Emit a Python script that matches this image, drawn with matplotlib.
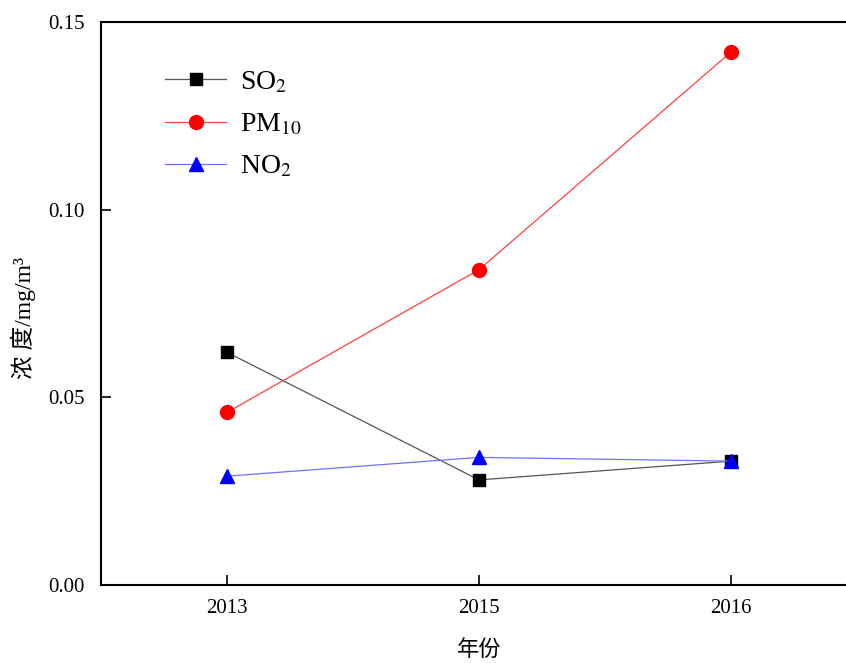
import matplotlib
matplotlib.use("Agg")
import matplotlib.pyplot as plt

years = ["2013", "2015", "2016"]
so2 = [0.062, 0.028, 0.033]
pm10 = [0.046, 0.084, 0.142]
no2 = [0.029, 0.034, 0.033]
yticks = [0.00, 0.05, 0.10, 0.15]

plt.rcParams['font.family'] = ['Liberation Serif', 'Noto Sans CJK SC']
plt.rcParams['mathtext.fontset'] = 'stix'

fig = plt.figure(figsize=(8.46, 6.63), dpi=100)
W, H = 846, 663
left, right, top, bottom = 101, 857, 22, 585
ax = fig.add_axes([left / W, 1 - bottom / H, (right - left) / W, (bottom - top) / H])

x = list(range(len(years)))
ax.plot(x, so2, color='#555555', lw=0.9, marker='s', ms=8, mfc='black', mec='black', label='SO$_2$')
ax.plot(x, pm10, color='#ff4040', lw=0.9, marker='o', ms=10, mfc='red', mec='red', label='PM$_{10}$')
ax.plot(x, no2, color='#7070ff', lw=0.9, marker='^', ms=10, mfc='blue', mec='blue', label='NO$_2$')

ax.set_xlim(-0.5, 2.5)
ax.set_ylim(0, 0.15)
ax.set_xticks(x)
ax.set_xticklabels(years)
ax.set_yticks(yticks)
ax.set_yticklabels([f"{v:.2f}" for v in yticks])
ax.tick_params(direction='in', length=7, width=1.2, labelsize=15, pad=10)
ax.tick_params(axis='y', pad=12)
ax.spines['right'].set_visible(False)
for s in ['left', 'bottom', 'top']:
    ax.spines[s].set_linewidth(1.5)

ax.set_xlabel('年份', fontsize=16)
ax.xaxis.set_label_coords(0.5, -0.098)
ax.set_ylabel('浓 度/mg/m³', fontsize=17)
ax.yaxis.set_label_coords(-0.086, 0.474)

leg = ax.legend(loc='upper left', bbox_to_anchor=(0.052, 0.96), frameon=False, fontsize=20,
                handlelength=2.2, labelspacing=0.6, handletextpad=0.5)

fig.savefig('out.png', dpi=100)
